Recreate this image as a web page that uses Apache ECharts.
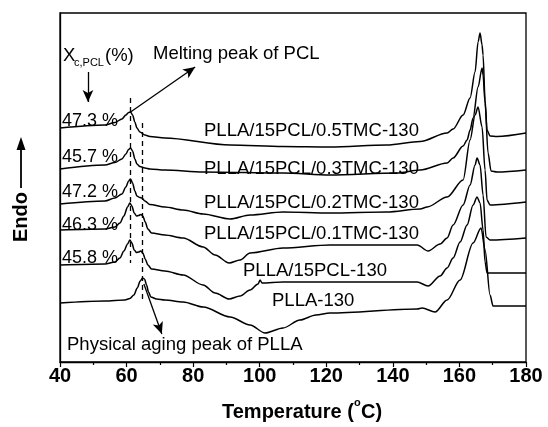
<!DOCTYPE html>
<html>
<head>
<meta charset="utf-8">
<script src="https://cdn.jsdelivr.net/npm/echarts@6/dist/echarts.min.js"></script>
<style>
html, body { margin: 0; padding: 0; background: #fff; }
#main { width: 548px; height: 427px; }
</style>
</head>
<body>
<div id="main"></div>
<script>
// DSC heating curves, x = temperature (C), y = heat flow (arb. units, shifted)
var tmc05 = [[40,234],[53.5,237],[56.5,239.5],[58.6,243],[59.8,247],[60.6,249.5],[61.2,250],[61.8,247],[62.5,240],[63.1,234],[64.0,230],[65.5,227],[67.0,225.5],[71.5,224],[91.1,217],[107,215.5],[121.1,215],[138.2,217],[148.2,220.5],[156.3,229],[158.1,233],[161.1,247],[163.2,264],[164.7,290],[165.6,320],[166.2,329],[166.8,317],[167.1,307],[167.7,262],[168.3,232],[169.2,226],[171.3,225.5],[180,229]];
var tmc03 = [[40,193],[53.5,197],[56.5,199.5],[58.6,203],[59.8,208],[60.6,212.5],[61.2,214],[61.8,211],[62.5,203],[63.1,198],[64.0,195.5],[65.5,194],[67.0,193],[71.5,192],[83.0,190],[107,189],[121.1,187],[141.2,189],[148.2,192],[156.3,199],[158.1,204],[161.1,216],[162.3,222],[163.2,232],[164.1,244],[165.6,275],[166.8,294],[167.1,287],[167.7,259],[168.6,209],[169.5,191],[171.3,190],[180,192]];
var tmc02 = [[40,158],[53.5,161],[56.5,164],[58.6,168],[59.8,175],[60.6,181],[61.2,183],[61.8,179],[62.5,171],[63.1,166],[64.0,164.5],[64.6,164],[65.5,161],[67.0,157.5],[71.5,155],[77.0,152],[83.0,148],[91.1,143],[97.1,147],[107,150],[121.1,149],[138.2,150],[148.2,153],[150.3,155],[156.3,165],[161.1,182],[163.2,222],[164.7,247],[165.6,255],[166.8,235],[167.7,192],[168.3,162],[169.2,157],[180,160]];
var tmc01 = [[40,132],[53.5,133],[56.5,135],[58.0,139],[59.2,146],[60.3,155],[61.0,159],[61.6,156],[62.3,149],[63.0,146],[63.6,146.5],[64.3,147.5],[64.9,146],[65.6,140],[66.4,133],[67.5,129],[71.5,127],[77.0,124],[83.0,115],[86.6,107],[90.8,99],[94.1,102],[97.1,109],[107,114],[121.1,117],[147.3,117],[150.6,111],[154.2,118],[156.3,124],[158.1,137],[161.1,157],[163.2,177],[164.7,197],[165.3,204],[166.2,197],[167.1,167],[168.0,125],[169.2,122],[180,124]];
var pcl15 = [[40,97],[53.5,98],[56.5,100],[58.0,104],[59.2,111],[60.3,118],[61.0,122],[61.6,119],[62.3,112],[63.0,109.5],[63.6,110],[64.3,111],[64.9,109],[65.6,103],[66.4,97],[67.5,93],[71.5,91],[77.0,87],[83.0,77],[86.6,69],[90.8,63],[94.1,66],[97.1,72],[99.5,78],[100.1,82],[100.7,79],[107,80],[121.1,80],[147.3,80],[150.6,76],[154.2,86],[156.3,94],[158.1,104],[160.2,120],[162.3,137],[164.1,157],[165.3,165],[166.2,159],[167.1,132],[167.7,100],[168.3,89],[180,89]];
var plla = [[40,59],[53.5,61],[59.5,62],[61.0,63.5],[62.2,67],[63.2,74],[64.1,81],[64.8,84],[65.4,83],[66.0,77],[66.6,70],[67.3,65],[69.0,63],[71.5,62],[77.0,60],[83.0,55],[91.1,45],[97.1,37],[101.6,29],[107,34],[112.1,42],[116.9,47],[121.1,49],[147.3,53],[148.8,54],[152.7,50],[156.3,62],[160.2,82],[164.1,119],[166.5,134],[167.7,112],[169.2,67],[170.1,56],[180,56]];

var seriesNames = ['PLLA/15PCL/0.5TMC-130','PLLA/15PCL/0.3TMC-130','PLLA/15PCL/0.2TMC-130','PLLA/15PCL/0.1TMC-130','PLLA/15PCL-130','PLLA-130'];
var crystPct = ['47.3 %','45.7 %','47.2 %','46.3 %','45.8 %'];
var xTicks = [40,60,80,100,120,140,160,180];

var dom = document.getElementById('main');
var myChart = echarts.init(dom);
var F = 'Liberation Sans, Arial, sans-serif';

function curve(name, data) {
    return {
        name: name,
        type: 'line',
        data: data,
        showSymbol: false,
        smooth: 0.3,
        smoothMonotone: 'x',
        lineStyle: {color: '#000', width: 1.5},
        silent: true
    };
}

var series = [
    curve(seriesNames[0], tmc05),
    curve(seriesNames[1], tmc03),
    curve(seriesNames[2], tmc02),
    curve(seriesNames[3], tmc01),
    curve(seriesNames[4], pcl15),
    curve(seriesNames[5], plla)
];

// dashed guide lines + arrows
series[0].markLine = {
    silent: true,
    animation: false,
    label: {show: false},
    symbol: ['none', 'none'],
    lineStyle: {color: '#000', width: 1.3, type: [5, 4]},
    data: [
        [{coord: [61.0, 264]}, {coord: [61.0, 99]}],
        [{coord: [64.7, 239]}, {coord: [64.7, 62]}],
        [{coord: [61.2, 250], lineStyle: {type: 'solid', width: 1.3}}, {coord: [80.6, 295], symbol: 'arrow', symbolSize: [8, 12]}],
        [{coord: [65.2, 78], lineStyle: {type: 'solid', width: 1.3}}, {coord: [70.6, 28], symbol: 'arrow', symbolSize: [8, 12]}],
        [{coord: [48.4, 290], lineStyle: {type: 'solid', width: 1.3}}, {coord: [48.4, 260], symbol: 'arrow', symbolSize: [8, 12]}]
    ]
};

function txt(s, x, y, size, opts) {
    opts = opts || {};
    return {
        type: 'text', x: x, y: y, rotation: opts.rot || 0, silent: true,
        style: {
            text: s, fill: '#000', fontFamily: F, fontSize: size,
            fontWeight: opts.bold ? 'bold' : 'normal',
            align: opts.align || 'left', verticalAlign: 'middle'
        }
    };
}

var graphic = [
    txt(seriesNames[0], 204, 131, 18.5),
    txt(seriesNames[1], 204, 169, 18.5),
    txt(seriesNames[2], 204, 202.5, 18.5),
    txt(seriesNames[3], 204, 234, 18.5),
    txt(seriesNames[4], 243, 271, 18.5),
    txt(seriesNames[5], 272, 301, 18.5),
    txt(crystPct[0], 62, 121, 18),
    txt(crystPct[1], 62, 157.5, 18),
    txt(crystPct[2], 62, 192, 18),
    txt(crystPct[3], 62, 225, 18),
    txt(crystPct[4], 62, 258, 18),
    txt('X', 63, 56, 18.5),
    txt('c,PCL', 74, 63, 11),
    txt('(%)', 105, 56, 18.5),
    txt('Melting peak of PCL', 153, 54, 18.5),
    txt('Physical aging peak of PLLA', 67, 345, 18.5),
    txt('Temperature (', 222, 412, 20, {bold: true}),
    txt('o', 354, 403, 11, {bold: true}),
    txt('C)', 361, 412, 20, {bold: true}),
    txt('Endo', 21, 217, 20, {bold: true, rot: Math.PI / 2, align: 'center'}),
    {type: 'line', silent: true, shape: {x1: 21, y1: 188, x2: 21, y2: 146}, style: {stroke: '#000', lineWidth: 1.8}},
    {type: 'polygon', silent: true, shape: {points: [[21, 137], [16.5, 150], [25.5, 150]]}, style: {fill: '#000'}}
];

option = {
    animation: false,
    backgroundColor: '#fff',
    grid: {left: 60, right: 22, top: 13, bottom: 65, show: true, borderColor: '#000', borderWidth: 1.3},
    xAxis: {
        type: 'value',
        min: 40, max: 180, interval: 20,
        axisLine: {show: true, lineStyle: {color: '#000', width: 1.3}},
        axisTick: {show: true, inside: false, length: 5, lineStyle: {color: '#000', width: 1.2}},
        minorTick: {show: true, splitNumber: 2, length: 3, lineStyle: {color: '#000', width: 1.2}},
        axisLabel: {
            color: '#000', fontFamily: F, fontSize: 20, fontWeight: 'bold', margin: 4,
            formatter: function (v) { return xTicks.indexOf(v) >= 0 ? String(v) : ''; }
        },
        splitLine: {show: false}
    },
    yAxis: {
        type: 'value',
        min: 0, max: 349,
        axisLine: {show: true, lineStyle: {color: '#000', width: 1.3}},
        axisTick: {show: false},
        axisLabel: {show: false},
        splitLine: {show: false}
    },
    graphic: graphic,
    series: series
};

if (option && typeof option === "object") {
    myChart.setOption(option, true);
}
</script>
</body>
</html>
